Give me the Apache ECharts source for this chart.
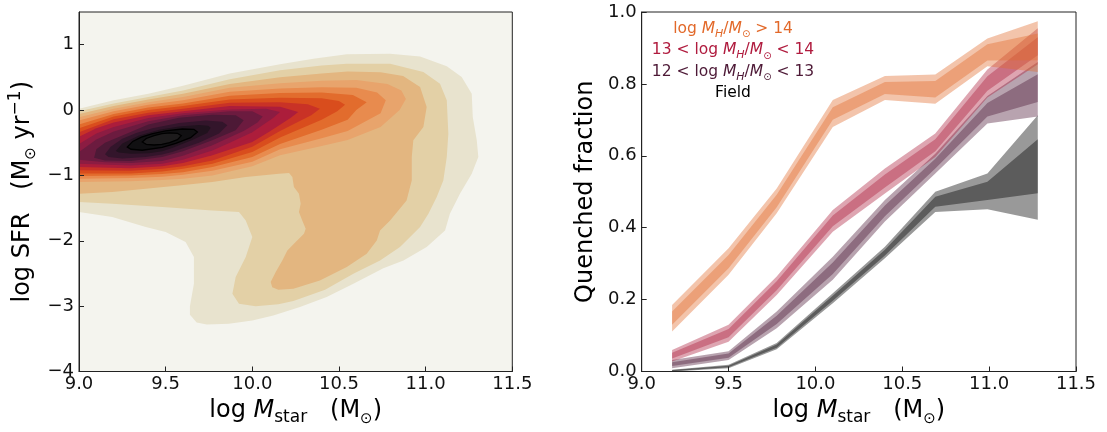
<!DOCTYPE html>
<html>
<head>
<meta charset="utf-8">
<script src="https://cdn.jsdelivr.net/npm/echarts@6/dist/echarts.min.js"></script>
<style>
html,body{margin:0;padding:0;background:#ffffff;}
#chart{width:1107px;height:432px;}
</style>
</head>
<body>
<div id="chart"></div>
<script>
// ================= DATA =================
// Tick values
const mstarTicks = [9.0, 9.5, 10.0, 10.5, 11.0, 11.5];
const sfrTicks = [-4, -3, -2, -1, 0, 1];
const fracTicks = [0.0, 0.2, 0.4, 0.6, 0.8, 1.0];

// Left panel: filled KDE contour levels, outermost -> innermost, vertices [log Mstar, log SFR]
const kdeLevel1 = [[9.0,0.02],[9.2,0.15],[9.4,0.25],[9.6,0.37],[9.87,0.56],[10.16,0.70],[10.352,0.786],[10.545,0.853],[10.795,0.86],[10.968,0.82],[11.122,0.67],[11.208,0.506],[11.266,0.251],[11.272,-0.106],[11.295,-0.464],[11.304,-0.719],[11.266,-0.974],[11.198,-1.28],[11.14,-1.586],[11.112,-1.841],[11.006,-2.096],[10.872,-2.3],[10.756,-2.42],[10.583,-2.658],[10.429,-2.862],[10.275,-3.015],[10.121,-3.143],[10.0,-3.22],[9.865,-3.27],[9.737,-3.28],[9.679,-3.25],[9.64,-3.13],[9.64,-3.0],[9.663,-2.658],[9.663,-2.25],[9.615,-2.02],[9.5,-1.867],[9.385,-1.79],[9.192,-1.637],[9.0,-1.561]];
const kdeLevel2 = [[9.0,-0.02],[9.2,0.10],[9.4,0.20],[9.6,0.30],[9.87,0.47],[10.16,0.608],[10.4,0.68],[10.545,0.71],[10.795,0.71],[10.987,0.582],[11.083,0.404],[11.122,0.149],[11.131,-0.362],[11.122,-0.719],[11.102,-1.076],[11.064,-1.33],[11.016,-1.586],[10.968,-1.79],[10.929,-1.892],[10.852,-2.096],[10.737,-2.3],[10.583,-2.504],[10.42,-2.75],[10.237,-2.92],[10.15,-2.97],[10.019,-3.0],[9.923,-2.964],[9.885,-2.811],[9.904,-2.556],[9.962,-2.25],[10.0,-1.944],[9.962,-1.688],[9.923,-1.561],[9.769,-1.535],[9.481,-1.484],[9.192,-1.433],[9.0,-1.408]];
const kdeLevel3 = [[9.0,-0.06],[9.2,0.06],[9.4,0.16],[9.6,0.25],[9.87,0.40],[10.16,0.50],[10.4,0.56],[10.55,0.59],[10.74,0.58],[10.87,0.52],[10.968,0.353],[11.006,0.046],[10.987,-0.26],[10.929,-0.464],[10.92,-0.719],[10.92,-1.076],[10.91,-1.178],[10.89,-1.382],[10.795,-1.688],[10.737,-1.841],[10.718,-1.994],[10.66,-2.198],[10.545,-2.402],[10.39,-2.606],[10.237,-2.734],[10.15,-2.75],[10.115,-2.71],[10.106,-2.632],[10.135,-2.479],[10.173,-2.301],[10.202,-2.148],[10.25,-2.02],[10.298,-1.893],[10.308,-1.816],[10.288,-1.688],[10.269,-1.561],[10.279,-1.433],[10.269,-1.28],[10.24,-1.178],[10.231,-1.025],[10.212,-0.964],[10.154,-0.974],[9.962,-1.025],[9.769,-1.102],[9.577,-1.153],[9.385,-1.204],[9.192,-1.255],[9.0,-1.28]];
const kdeLevel4 = [[9.0,-0.11],[9.2,0.02],[9.4,0.12],[9.6,0.20],[9.87,0.34],[10.16,0.41],[10.4,0.45],[10.6,0.46],[10.78,0.40],[10.86,0.30],[10.886,0.17],[10.85,0.0],[10.74,-0.26],[10.55,-0.46],[10.4,-0.55],[10.16,-0.69],[10.0,-0.86],[9.77,-1.0],[9.6,-1.05],[9.48,-1.07],[9.3,-1.09],[9.0,-1.10]];
const kdeLevel5 = [[9.0,-0.16],[9.2,-0.02],[9.4,0.08],[9.6,0.15],[9.87,0.28],[10.16,0.33],[10.4,0.35],[10.6,0.34],[10.72,0.27],[10.77,0.15],[10.74,-0.05],[10.55,-0.32],[10.4,-0.43],[10.16,-0.60],[10.0,-0.79],[9.77,-0.93],[9.6,-0.99],[9.48,-1.02],[9.3,-1.04],[9.0,-1.05]];
const kdeLevel6 = [[9.0,-0.22],[9.2,-0.06],[9.4,0.04],[9.6,0.10],[9.87,0.22],[10.16,0.26],[10.4,0.27],[10.58,0.23],[10.66,0.12],[10.6,0.0],[10.55,-0.15],[10.4,-0.30],[10.16,-0.52],[10.0,-0.72],[9.77,-0.87],[9.6,-0.95],[9.48,-0.98],[9.3,-1.0],[9.0,-1.01]];
const kdeLevel7 = [[9.0,-0.28],[9.2,-0.10],[9.4,0.0],[9.6,0.06],[9.87,0.16],[10.16,0.19],[10.4,0.18],[10.5,0.14],[10.535,0.08],[10.49,-0.02],[10.4,-0.15],[10.16,-0.42],[10.0,-0.64],[9.77,-0.82],[9.6,-0.90],[9.48,-0.94],[9.3,-0.97],[9.0,-0.97]];
const kdeLevel8 = [[9.0,-0.34],[9.2,-0.14],[9.4,-0.04],[9.6,0.02],[9.87,0.11],[10.16,0.12],[10.32,0.09],[10.39,0.02],[10.34,-0.08],[10.16,-0.32],[10.0,-0.56],[9.77,-0.77],[9.6,-0.86],[9.48,-0.90],[9.3,-0.93],[9.0,-0.92]];
const kdeLevel9 = [[9.0,-0.41],[9.1,-0.28],[9.2,-0.19],[9.4,-0.08],[9.6,-0.02],[9.87,0.06],[10.16,0.05],[10.265,-0.03],[10.22,-0.12],[10.1,-0.33],[10.0,-0.49],[9.77,-0.69],[9.6,-0.81],[9.48,-0.86],[9.3,-0.89],[9.0,-0.87]];
const kdeLevel10 = [[9.0,-0.52],[9.1,-0.36],[9.2,-0.26],[9.4,-0.12],[9.6,-0.05],[9.87,0.01],[10.08,0.02],[10.16,-0.03],[10.12,-0.12],[10.0,-0.34],[9.87,-0.50],[9.77,-0.62],[9.6,-0.76],[9.48,-0.82],[9.3,-0.85],[9.0,-0.82]];
const kdeLevel11 = [[9.0,-0.64],[9.1,-0.45],[9.2,-0.33],[9.4,-0.17],[9.6,-0.08],[9.87,-0.02],[10.0,-0.02],[10.06,-0.10],[10.03,-0.19],[9.95,-0.32],[9.77,-0.54],[9.6,-0.70],[9.48,-0.78],[9.3,-0.81],[9.15,-0.80],[9.0,-0.76]];
const kdeLevel12 = [[9.087,-0.73],[9.1,-0.60],[9.15,-0.50],[9.25,-0.39],[9.4,-0.22],[9.577,-0.117],[9.769,-0.071],[9.904,-0.081],[9.95,-0.157],[9.904,-0.311],[9.769,-0.464],[9.6,-0.63],[9.48,-0.72],[9.3,-0.78],[9.15,-0.77]];
const kdeLevel13 = [[9.15,-0.678],[9.183,-0.56],[9.25,-0.44],[9.33,-0.35],[9.423,-0.28],[9.577,-0.20],[9.731,-0.16],[9.827,-0.18],[9.856,-0.234],[9.808,-0.36],[9.692,-0.50],[9.538,-0.64],[9.48,-0.68],[9.385,-0.72],[9.25,-0.74],[9.17,-0.72]];
const kdeLevel14 = [[9.212,-0.627],[9.25,-0.51],[9.346,-0.39],[9.462,-0.30],[9.577,-0.25],[9.692,-0.23],[9.745,-0.24],[9.76,-0.27],[9.74,-0.35],[9.654,-0.46],[9.538,-0.58],[9.48,-0.63],[9.404,-0.66],[9.3,-0.67],[9.23,-0.65]];
const kdeLevel15 = [[9.279,-0.566],[9.31,-0.48],[9.36,-0.415],[9.42,-0.365],[9.5,-0.32],[9.596,-0.29],[9.663,-0.295],[9.683,-0.336],[9.644,-0.423],[9.558,-0.51],[9.48,-0.57],[9.365,-0.615],[9.3,-0.60]];
const kdeLevel16 = [[9.365,-0.489],[9.388,-0.435],[9.433,-0.39],[9.478,-0.362],[9.523,-0.35],[9.568,-0.356],[9.59,-0.392],[9.568,-0.453],[9.523,-0.499],[9.478,-0.526],[9.433,-0.535],[9.388,-0.525]];

const kdeLevels = [kdeLevel1,kdeLevel2,kdeLevel3,kdeLevel4,kdeLevel5,kdeLevel6,kdeLevel7,kdeLevel8,kdeLevel9,kdeLevel10,kdeLevel11,kdeLevel12,kdeLevel13,kdeLevel14,kdeLevel15,kdeLevel16];
const kdeColors = ['#e8e3ce','#e3d0a6','#e3b680','#e8a46c','#e88b4e','#e26c2d','#d94d1d','#c93226','#ac1d3b','#8c1c42','#6c1b3f','#4d1936','#33152b','#21121e','#111012','#1d1b1c'];

// Right panel: quenched fraction vs stellar mass, by halo-mass group
const massBins = [9.175, 9.50, 9.777, 10.10, 10.40, 10.69, 10.99, 11.28];
// outer (2 sigma) and inner (1 sigma) band edges
const q14Lo2 = [0.111, 0.269, 0.440, 0.680, 0.755, 0.745, 0.849, 0.833];
const q14Lo1 = [0.130, 0.287, 0.457, 0.700, 0.772, 0.762, 0.865, 0.866];
const q14Hi1 = [0.167, 0.324, 0.492, 0.735, 0.805, 0.808, 0.910, 0.940];
const q14Hi2 = [0.185, 0.343, 0.509, 0.755, 0.822, 0.826, 0.926, 0.974];

const q13Lo2 = [0.028, 0.083, 0.213, 0.389, 0.495, 0.597, 0.762, 0.855];
const q13Lo1 = [0.036, 0.095, 0.226, 0.404, 0.512, 0.613, 0.781, 0.880];
const q13Hi1 = [0.052, 0.118, 0.251, 0.434, 0.548, 0.646, 0.821, 0.930];
const q13Hi2 = [0.060, 0.130, 0.264, 0.449, 0.565, 0.662, 0.840, 0.955];

const q12Lo2 = [0.009, 0.032, 0.120, 0.255, 0.417, 0.551, 0.690, 0.709];
const q12Lo1 = [0.015, 0.038, 0.132, 0.271, 0.432, 0.565, 0.709, 0.750];
const q12Hi1 = [0.026, 0.050, 0.155, 0.303, 0.462, 0.592, 0.747, 0.827];
const q12Hi2 = [0.032, 0.056, 0.167, 0.319, 0.477, 0.606, 0.766, 0.861];

const qFieldLo2 = [0.000, 0.009, 0.062, 0.190, 0.315, 0.444, 0.451, 0.422];
const qFieldLo1 = [0.001, 0.012, 0.066, 0.197, 0.323, 0.458, 0.477, 0.496];
const qFieldHi1 = [0.004, 0.016, 0.075, 0.211, 0.339, 0.486, 0.528, 0.646];
const qFieldHi2 = [0.005, 0.019, 0.079, 0.218, 0.347, 0.500, 0.551, 0.713];

const groupColors = ['#e26c2d', '#ac1d3b', '#4d1936', '#000000'];
const groupTextColors = ['#e2692a', '#b01b3e', '#4d1936', '#000000'];
const legendTexts = [
  '{n|log }{i|M}{s|H}{n|/}{i|M}{o|\u2299}{n| > 14}',
  '{n|13 < log }{i|M}{s|H}{n|/}{i|M}{o|\u2299}{n| < 14}',
  '{n|12 < log }{i|M}{s|H}{n|/}{i|M}{o|\u2299}{n| < 13}',
  '{n|Field}'
];

// ================= CHART =================
const FONT = 'DejaVu Sans';
const chart = echarts.init(document.getElementById('chart'), null, {renderer: 'canvas'});

function polygonSeries(gi, pts, style) {
  return {
    type: 'custom', coordinateSystem: 'cartesian2d', xAxisIndex: gi, yAxisIndex: gi,
    clip: true, silent: true, z: 2,
    data: pts,
    renderItem: function (params, api) {
      if (params.dataIndex !== 0) return null;
      return {type: 'polygon', shape: {points: pts.map(function (p) { return api.coord(p); })}, style: style};
    }
  };
}
function bandPoints(xs, lo, hi) {
  const up = xs.map(function (x, i) { return [x, hi[i]]; });
  const dn = xs.map(function (x, i) { return [x, lo[i]]; }).reverse();
  return up.concat(dn);
}

const series = [];
kdeLevels.forEach(function (lv, k) {
  const st = {fill: kdeColors[k]};
  if (k >= 14) { st.stroke = '#000'; st.lineWidth = 1.3; }
  series.push(polygonSeries(0, lv, st));
});
const bands = [
  [qFieldLo2, qFieldHi2, qFieldLo1, qFieldHi1, 3],
  [q12Lo2, q12Hi2, q12Lo1, q12Hi1, 2],
  [q13Lo2, q13Hi2, q13Lo1, q13Hi1, 1],
  [q14Lo2, q14Hi2, q14Lo1, q14Hi1, 0]
];
bands.forEach(function (b) {
  const c = groupColors[b[4]];
  series.push(polygonSeries(1, bandPoints(massBins, b[0], b[1]), {fill: c, opacity: 0.4}));
  series.push(polygonSeries(1, bandPoints(massBins, b[2], b[3]), {fill: c, opacity: 0.4}));
});

const NAME_RICH = {
  n: {fontFamily: FONT, fontSize: 24, color: '#000', lineHeight: 32, verticalAlign: 'middle'},
  i: {fontFamily: FONT, fontSize: 24, fontStyle: 'italic', color: '#000', lineHeight: 32, verticalAlign: 'middle'},
  s: {fontFamily: FONT, fontSize: 17, color: '#000', lineHeight: 19, verticalAlign: 'bottom'},
  o: {fontFamily: FONT, fontSize: 15, color: '#000', lineHeight: 17, verticalAlign: 'bottom'},
  p: {fontFamily: FONT, fontSize: 17, color: '#000', lineHeight: 16, verticalAlign: 'top'}
};
const X_NAME = '{n|log }{i|M}{s|star}{n|   (M}{o|\u2299}{n|)}';
const Y0_NAME = '{n|log SFR   (M}{o|\u2299}{n| yr}{p|\u22121}{n|)}';
const Y1_NAME = '{n|Quenched fraction}';

const axisLineStyle = {color: '#222', width: 1};
function xAxisFor(gi) {
  return {
    type: 'value', gridIndex: gi, min: 9, max: 11.5, interval: 0.5, z: 5,
    axisLine: {show: true, onZero: false, lineStyle: axisLineStyle},
    axisTick: {show: true, inside: true, length: 5, lineStyle: axisLineStyle, customValues: mstarTicks},
    axisLabel: {show: true, customValues: mstarTicks, formatter: function (v) { return Number(v).toFixed(1); },
      fontFamily: FONT, fontSize: 18, color: '#111', margin: 4},
    splitLine: {show: false},
    name: X_NAME, nameLocation: 'middle', nameGap: 20,
    nameTextStyle: {fontFamily: FONT, fontSize: 24, color: '#000', rich: NAME_RICH}
  };
}

const option = {
  animation: false,
  backgroundColor: '#ffffff',
  grid: [
    {left: 79, top: 12, width: 433.3, height: 359.5, show: true, borderColor: '#222', borderWidth: 1, backgroundColor: '#f4f4ee', containLabel: false},
    {left: 641.7, top: 12, width: 434.3, height: 359.5, show: true, borderColor: '#222', borderWidth: 1, backgroundColor: '#ffffff', containLabel: false}
  ],
  xAxis: [xAxisFor(0), xAxisFor(1)],
  yAxis: [
    {
      type: 'value', gridIndex: 0, min: -4, max: 1.5, interval: 1, z: 5,
      axisLine: {show: true, onZero: false, lineStyle: axisLineStyle},
      axisTick: {show: true, inside: true, length: 5, lineStyle: axisLineStyle, customValues: sfrTicks},
      axisLabel: {show: true, customValues: sfrTicks,
        formatter: function (v) { return v < 0 ? '\u2212' + Math.abs(v) : String(v); },
        fontFamily: FONT, fontSize: 18, color: '#111', margin: 5},
      splitLine: {show: false},
      name: Y0_NAME, nameLocation: 'middle', nameGap: 40,
      nameTextStyle: {fontFamily: FONT, fontSize: 24, color: '#000', rich: NAME_RICH}
    },
    {
      type: 'value', gridIndex: 1, min: 0, max: 1, interval: 0.2, z: 5,
      axisLine: {show: true, onZero: false, lineStyle: axisLineStyle},
      axisTick: {show: true, inside: true, length: 5, lineStyle: axisLineStyle, customValues: fracTicks},
      axisLabel: {show: true, customValues: fracTicks, formatter: function (v) { return Number(v).toFixed(1); },
        fontFamily: FONT, fontSize: 18, color: '#111', margin: 5},
      splitLine: {show: false},
      name: Y1_NAME, nameLocation: 'middle', nameGap: 40,
      nameTextStyle: {fontFamily: FONT, fontSize: 24, color: '#000', rich: NAME_RICH}
    }
  ],
  series: series
};
chart.setOption(option);

// Group labels (legend text) in the right panel
function legendRich(color) {
  return {
    n: {fontFamily: FONT, fontSize: 15.5, fill: color, color: color, lineHeight: 22, verticalAlign: 'middle'},
    i: {fontFamily: FONT, fontSize: 15.5, fontStyle: 'italic', fill: color, color: color, lineHeight: 22, verticalAlign: 'middle'},
    s: {fontFamily: FONT, fontSize: 11, fontStyle: 'italic', fill: color, color: color, lineHeight: 13, verticalAlign: 'bottom'},
    o: {fontFamily: FONT, fontSize: 10, fill: color, color: color, lineHeight: 12, verticalAlign: 'bottom'}
  };
}
const legendY = [28.5, 50, 71.5, 93];
chart.setOption({
  graphic: legendTexts.map(function (t, k) {
    return {
      type: 'text', x: 733, y: legendY[k], z: 10, silent: true,
      style: {text: t, rich: legendRich(groupTextColors[k]), align: 'center', verticalAlign: 'middle',
        textAlign: 'center', textVerticalAlign: 'middle', fill: groupTextColors[k], font: '15.5px "DejaVu Sans"'}
    };
  })
});
</script>
</body>
</html>
